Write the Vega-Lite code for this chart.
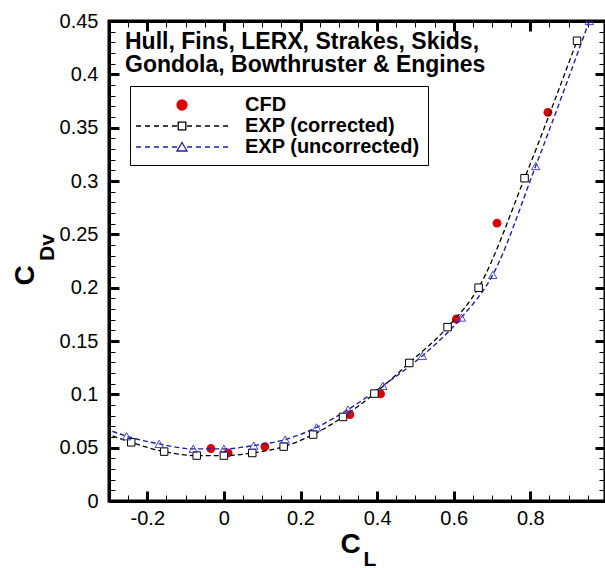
{
  "$schema": "https://vega.github.io/schema/vega-lite/v6.json",
  "autosize": {"type": "none"},
  "padding": {"left": 109, "top": 21, "right": 0, "bottom": 67},
  "width": 496,
  "height": 480,
  "background": "white",
  "title": {
    "text": ["Hull, Fins, LERX, Strakes, Skids,", "Gondola, Bowthruster & Engines"],
    "anchor": "start", "frame": "group", "orient": "top",
    "font": "Liberation Sans", "fontSize": 23, "fontWeight": "bold", "color": "black",
    "lineHeight": 23, "baseline": "top", "offset": 0, "dx": 16, "dy": 66
  },
  "datasets": {
    "pts": [
      {"s": "CFD", "CL": -0.034, "CD": 0.0492},
      {"s": "CFD", "CL": 0.011, "CD": 0.0451},
      {"s": "CFD", "CL": 0.107, "CD": 0.051},
      {"s": "CFD", "CL": 0.329, "CD": 0.081},
      {"s": "CFD", "CL": 0.409, "CD": 0.1004},
      {"s": "CFD", "CL": 0.607, "CD": 0.1706},
      {"s": "CFD", "CL": 0.713, "CD": 0.2605},
      {"s": "CFD", "CL": 0.846, "CD": 0.3644},
      {"s": "EXP (corrected)", "CL": -0.33, "CD": 0.0665},
      {"s": "EXP (corrected)", "CL": -0.242, "CD": 0.055},
      {"s": "EXP (corrected)", "CL": -0.156, "CD": 0.0463},
      {"s": "EXP (corrected)", "CL": -0.071, "CD": 0.0426},
      {"s": "EXP (corrected)", "CL": 0.0, "CD": 0.0426},
      {"s": "EXP (corrected)", "CL": 0.074, "CD": 0.045},
      {"s": "EXP (corrected)", "CL": 0.156, "CD": 0.051},
      {"s": "EXP (corrected)", "CL": 0.233, "CD": 0.0623},
      {"s": "EXP (corrected)", "CL": 0.311, "CD": 0.0788},
      {"s": "EXP (corrected)", "CL": 0.393, "CD": 0.1007},
      {"s": "EXP (corrected)", "CL": 0.484, "CD": 0.1294},
      {"s": "EXP (corrected)", "CL": 0.584, "CD": 0.163},
      {"s": "EXP (corrected)", "CL": 0.665, "CD": 0.2},
      {"s": "EXP (corrected)", "CL": 0.785, "CD": 0.3026},
      {"s": "EXP (corrected)", "CL": 0.922, "CD": 0.4315},
      {"s": "EXP (uncorrected)", "CL": -0.33, "CD": 0.071},
      {"s": "EXP (uncorrected)", "CL": -0.254, "CD": 0.0607},
      {"s": "EXP (uncorrected)", "CL": -0.169, "CD": 0.0535},
      {"s": "EXP (uncorrected)", "CL": -0.08, "CD": 0.0489},
      {"s": "EXP (uncorrected)", "CL": 0.0, "CD": 0.0489},
      {"s": "EXP (uncorrected)", "CL": 0.078, "CD": 0.052},
      {"s": "EXP (uncorrected)", "CL": 0.16, "CD": 0.0576},
      {"s": "EXP (uncorrected)", "CL": 0.242, "CD": 0.069},
      {"s": "EXP (uncorrected)", "CL": 0.324, "CD": 0.0857},
      {"s": "EXP (uncorrected)", "CL": 0.415, "CD": 0.108},
      {"s": "EXP (uncorrected)", "CL": 0.518, "CD": 0.136},
      {"s": "EXP (uncorrected)", "CL": 0.62, "CD": 0.172},
      {"s": "EXP (uncorrected)", "CL": 0.702, "CD": 0.212},
      {"s": "EXP (uncorrected)", "CL": 0.814, "CD": 0.314},
      {"s": "EXP (uncorrected)", "CL": 0.954, "CD": 0.45}
    ]
  },
  "data": {"name": "pts"},
  "resolve": {"axis": {"x": "independent", "y": "independent"}},
  "layer": [
    {
      "transform": [{"filter": "datum.s === 'CFD'"}],
      "mark": {"type": "point", "shape": "circle", "filled": true, "color": "#dd0000", "opacity": 1, "size": 78, "clip": true},
      "encoding": {
        "x": {"field": "CL", "type": "quantitative", "scale": {"domain": [-0.3, 0.995], "nice": false, "zero": false},
          "axis": {
            "orient": "bottom", "ticks": false,
            "values": [-0.3,-0.25,-0.2,-0.15,-0.1,-0.05,0,0.05,0.1,0.15,0.2,0.25,0.3,0.35,0.4,0.45,0.5,0.55,0.6,0.65,0.7,0.75,0.8,0.85,0.9,0.95],
            "labelExpr": "round(datum.value*100) % 20 === 0 ? toString(round(datum.value*10)/10) : ''",
            "grid": true, "gridColor": "black", "gridOpacity": 1,
            "gridWidth": {"condition": {"test": "round(datum.value*100) % 20 === 0", "value": 3}, "value": 1},
            "gridDash": {"condition": {"test": "round(datum.value*100) % 20 === 0", "value": [10, 460, 10]}, "value": [6, 468, 6]},
            "domainColor": "black", "domainWidth": 3,
            "labelFont": "Liberation Sans", "labelFontSize": 20, "labelColor": "black", "labelPadding": 7,
            "labelFlush": false, "labelOverlap": false, "labelBound": false,
            "title": "C", "titleFont": "Liberation Sans", "titleFontSize": 28, "titleFontWeight": "bold", "titleColor": "black",
            "titleX": 241, "titleY": 51, "titleAlign": "center", "titleBaseline": "alphabetic", "titleAngle": 0
          }},
        "y": {"field": "CD", "type": "quantitative", "scale": {"domain": [0, 0.45], "nice": false, "zero": false},
          "axis": {
            "orient": "left", "ticks": false,
            "values": [0,0.01,0.02,0.03,0.04,0.05,0.06,0.07,0.08,0.09,0.1,0.11,0.12,0.13,0.14,0.15,0.16,0.17,0.18,0.19,0.2,0.21,0.22,0.23,0.24,0.25,0.26,0.27,0.28,0.29,0.3,0.31,0.32,0.33,0.34,0.35,0.36,0.37,0.38,0.39,0.4,0.41,0.42,0.43,0.44,0.45],
            "labelExpr": "round(datum.value*100) % 5 === 0 ? toString(round(datum.value*100)/100) : ''",
            "grid": true, "gridColor": "black", "gridOpacity": 1,
            "gridWidth": {"condition": {"test": "round(datum.value*100) % 5 === 0", "value": 3}, "value": 1},
            "gridDash": {"condition": [
              {"test": "datum.value > 0.449", "value": [600]},
              {"test": "round(datum.value*100) % 5 === 0", "value": [10, 476, 10]}
            ], "value": [6, 484, 6]},
            "domainColor": "black", "domainWidth": 3,
            "labelFont": "Liberation Sans", "labelFontSize": 20, "labelColor": "black", "labelPadding": 11,
            "labelFlush": false, "labelOverlap": false, "labelBound": false,
            "title": "C", "titleFont": "Liberation Sans", "titleFontSize": 28, "titleFontWeight": "bold", "titleColor": "black",
            "titleX": -76, "titleY": 254, "titleAlign": "center", "titleBaseline": "alphabetic", "titleAngle": 270
          }}
      }
    },
    {
      "transform": [{"filter": "datum.s === 'EXP (corrected)'"}],
      "mark": {"type": "line", "interpolate": "monotone", "color": "black", "strokeWidth": 1.3, "strokeDash": [5, 3], "clip": true},
      "encoding": {
        "x": {"field": "CL", "type": "quantitative",
          "axis": {
            "orient": "top", "grid": false, "labels": false, "domain": false, "ticks": false,
            "title": "L", "titleFont": "Liberation Sans", "titleFontSize": 21, "titleFontWeight": "bold", "titleColor": "black",
            "titleX": 254, "titleY": 544, "titleAlign": "left", "titleBaseline": "alphabetic", "titleAngle": 0
          }},
        "y": {"field": "CD", "type": "quantitative",
          "axis": {
            "orient": "right", "grid": false, "labels": false, "domain": false, "ticks": false,
            "title": "Dv", "titleFont": "Liberation Sans", "titleFontSize": 21, "titleFontWeight": "bold", "titleColor": "black",
            "titleX": -552, "titleY": 226, "titleAlign": "center", "titleBaseline": "alphabetic", "titleAngle": 270
          }}
      }
    },
    {
      "transform": [{"filter": "datum.s === 'EXP (uncorrected)'"}],
      "mark": {"type": "line", "interpolate": "monotone", "color": "#1e1eb0", "strokeWidth": 1.4, "strokeDash": [5, 3], "clip": true},
      "encoding": {
        "x": {"field": "CL", "type": "quantitative", "axis": null},
        "y": {"field": "CD", "type": "quantitative", "axis": null}
      }
    },
    {
      "transform": [{"filter": "datum.s === 'EXP (corrected)'"}],
      "mark": {"type": "point", "shape": "square", "filled": true, "fill": "white", "stroke": "black", "strokeWidth": 1, "opacity": 1, "size": 56, "clip": true},
      "encoding": {
        "x": {"field": "CL", "type": "quantitative", "axis": null},
        "y": {"field": "CD", "type": "quantitative", "axis": null}
      }
    },
    {
      "transform": [{"filter": "datum.s === 'EXP (uncorrected)'"}],
      "mark": {"type": "point", "shape": "triangle-up", "filled": false, "stroke": "#4646cc", "strokeWidth": 1, "opacity": 1, "size": 70, "clip": true},
      "encoding": {
        "x": {"field": "CL", "type": "quantitative", "axis": null},
        "y": {"field": "CD", "type": "quantitative", "axis": null}
      }
    },
    {
      "mark": {"type": "point", "filled": true, "size": 0, "opacity": 1, "strokeWidth": 1.3},
      "encoding": {
        "x": {"field": "CL", "type": "quantitative", "axis": null},
        "y": {"field": "CD", "type": "quantitative", "axis": null},
        "shape": {"field": "s", "type": "nominal",
          "scale": {"domain": ["CFD", "EXP (corrected)", "EXP (uncorrected)"],
            "range": [
              "M-0.5,0A0.5,0.5 0 1,0 0.5,0A0.5,0.5 0 1,0 -0.5,0Z",
              "M-4.6,0H-4.1M-3.7,0H-3.2M-2.8,0H-2.3M-1.9,0H-1.4M-1,0H-0.5M0.5,0H1M1.4,0H1.9M2.3,0H2.8M3.2,0H3.7M4.1,0H4.6M-0.38,-0.38H0.38V0.38H-0.38Z",
              "M-4.6,0H-4.1M-3.7,0H-3.2M-2.8,0H-2.3M-1.9,0H-1.4M-1,0H-0.5M0.5,0H1M1.4,0H1.9M2.3,0H2.8M3.2,0H3.7M4.1,0H4.6M0,-0.45L0.5,0.4H-0.5Z"
            ]},
          "legend": {"title": null, "orient": "none", "legendX": 21, "legendY": 65, "padding": 8,
            "strokeColor": "black", "fillColor": "white", "symbolSize": 400, "symbolStrokeWidth": 1.3, "symbolOpacity": 1,
            "symbolOffset": 33, "labelOffset": 52, "rowPadding": -1,
            "labelFont": "Liberation Sans", "labelFontSize": 20, "labelFontWeight": "bold", "labelColor": "black", "labelLimit": 400}},
        "fill": {"field": "s", "type": "nominal",
          "scale": {"domain": ["CFD", "EXP (corrected)", "EXP (uncorrected)"], "range": ["#dd0000", "white", "white"]},
          "legend": {"title": null, "orient": "none", "legendX": 21, "legendY": 65, "padding": 8,
            "strokeColor": "black", "fillColor": "white", "symbolSize": 400, "symbolStrokeWidth": 1.3, "symbolOpacity": 1,
            "symbolOffset": 33, "labelOffset": 52, "rowPadding": -1,
            "labelFont": "Liberation Sans", "labelFontSize": 20, "labelFontWeight": "bold", "labelColor": "black", "labelLimit": 400}},
        "stroke": {"field": "s", "type": "nominal",
          "scale": {"domain": ["CFD", "EXP (corrected)", "EXP (uncorrected)"], "range": ["#dd0000", "black", "#1e1eb0"]},
          "legend": {"title": null, "orient": "none", "legendX": 21, "legendY": 65, "padding": 8,
            "strokeColor": "black", "fillColor": "white", "symbolSize": 400, "symbolStrokeWidth": 1.3, "symbolOpacity": 1,
            "symbolOffset": 33, "labelOffset": 52, "rowPadding": -1,
            "labelFont": "Liberation Sans", "labelFontSize": 20, "labelFontWeight": "bold", "labelColor": "black", "labelLimit": 400}}
      }
    }
  ],
  "config": {
    "view": {"stroke": "black", "strokeWidth": 3},
    "font": "Liberation Sans"
  }
}
